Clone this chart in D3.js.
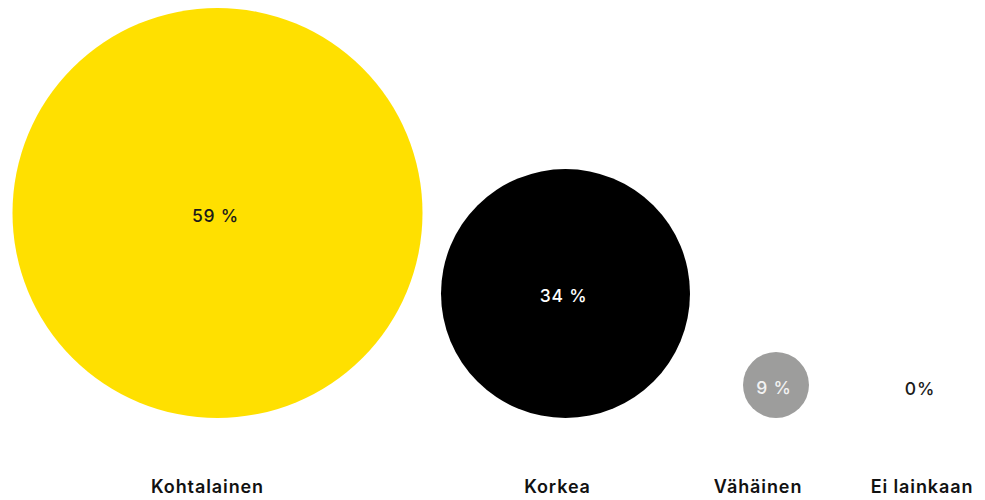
<!DOCTYPE html>
<html>
<head>
<meta charset="utf-8">
<script src="https://cdn.jsdelivr.net/npm/d3@7"></script>
<style>
  html, body { margin: 0; padding: 0; background: #fff; }
  svg { display: block; }
  text { font-family: Inter, "Open Sans", sans-serif; }
</style>
</head>
<body>
<svg id="chart" width="985" height="500"></svg>
<script>
const categories = ["Kohtalainen", "Korkea", "Vähäinen", "Ei lainkaan"];
const values = [59, 34, 9, 0];
const valueLabels = ["59 %", "34 %", "9 %", "0%"];
const colors = ["#FFE000", "#000000", "#9D9D9C", "#FFFFFF"];
const textColors = ["#1A1A1A", "#FFFFFF", "#F2F2F2", "#1A1A1A"];

const svg = d3.select("#chart");
const baseY = 418;

// radius scale (values -> radius)
const r = d3.scaleLinear().domain([0, 9, 34, 59]).range([0, 33, 124.5, 205]);
// circle centre positions and label positions per category
const xCircle = d3.scaleOrdinal().domain(categories).range([217.5, 565.5, 776, 922]);
const xLabel = d3.scaleOrdinal().domain(categories).range([207.5, 557.5, 758, 922]);

const data = categories.map((c, i) => ({ c, v: values[i], lab: valueLabels[i], fill: colors[i], tc: textColors[i] }));

const g = svg.selectAll("g.item").data(data).join("g").attr("class", "item");

g.append("circle")
  .attr("cx", d => xCircle(d.c))
  .attr("cy", d => baseY - r(d.v))
  .attr("r", d => r(d.v))
  .attr("fill", d => d.fill);

g.append("text")
  .attr("x", d => xCircle(d.c) - 2)
  .attr("y", d => d.v === 0 ? 388 : baseY - r(d.v) + 2)
  .attr("text-anchor", "middle")
  .attr("dominant-baseline", "central")
  .attr("font-size", 17.5)
  .attr("font-weight", 500)
  .attr("letter-spacing", 0.8)
  .attr("fill", d => d.tc)
  .text(d => d.lab);

g.append("text")
  .attr("x", d => xLabel(d.c))
  .attr("y", 493)
  .attr("text-anchor", "middle")
  .attr("font-size", 18)
  .attr("font-weight", 600)
  .attr("letter-spacing", 0.9)
  .attr("fill", "#111")
  .text(d => d.c);
</script>
</body>
</html>
